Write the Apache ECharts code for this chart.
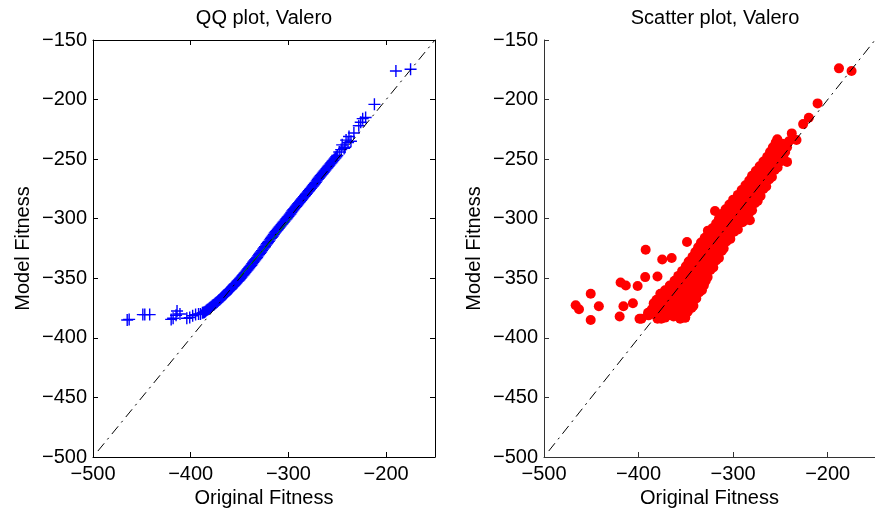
<!DOCTYPE html>
<html><head><meta charset="utf-8">
<script src="https://cdn.jsdelivr.net/npm/echarts@6/dist/echarts.min.js"></script>
<style>html,body{margin:0;padding:0;background:#fff}#c{width:875px;height:514px}</style>
</head><body><div id="c"></div>
<script>
// ---------------- data ----------------
const axisMin = -500, axisMax = -150;
const xInterval = 100, yInterval = 50;
const titles = ['QQ plot, Valero', 'Scatter plot, Valero'];
const xName = 'Original Fitness', yName = 'Model Fitness';

// QQ plot: lower tail
const qqTailOriginal = [-465,-463,-449,-447,-442,-420,-418,-415,-414,-411,-404,-401,-398,-395,-392,-390];
const qqTailModel    = [-385,-384.5,-380.5,-380.5,-380.5,-384.5,-383.5,-381,-377.5,-380,-383.5,-383,-381.5,-380.5,-380,-380];
// QQ plot: dense body
const qqBodyOriginal = [
 -388,-387,-386,-385,-384,-383,-382,-381,-380,-379,
 -378,-377,-376,-375,-374,-373,-372,-371,-370,-369,
 -368,-367,-366,-365,-364,-363,-362,-361,-360,-359,
 -358,-357,-356,-355,-354,-353,-352,-351,-350,-349,
 -348,-347,-346,-345,-344,-343,-342,-341,-340,-339,
 -338,-337,-336,-335,-334,-333,-332,-331,-330,-329,
 -328,-327,-326,-325,-324,-323,-322,-321,-320,-319,
 -318,-317,-316,-315,-314,-313,-312,-311,-310,-309,
 -308,-307,-306,-305,-304,-303,-302,-301,-300,-299,
 -298,-297,-296,-295,-294,-293,-292,-291,-290,-289,
 -288,-287,-286,-285,-284,-283,-282,-281,-280,-279,
 -278,-277,-276,-275,-274,-273,-272,-271,-270,-269,
 -268,-267,-266,-265,-264,-263,-262,-261,-260,-259,
 -258,-257,-256,-255,-254,-253,-252,-251,-250];
const qqBodyModel = [
 -379,-378.8,-378.5,-377.8,-377,-376.5,-376,-375.2,-374.5,-373.8,
 -373,-372.5,-372,-371.2,-370.5,-369.8,-369,-368.2,-367.5,-366.8,
 -366,-365.2,-364.5,-363.8,-363,-362,-361,-360.2,-359.5,-358.8,
 -358,-357,-356,-355.2,-354.5,-353.5,-352.5,-351.8,-351,-350,
 -349,-348,-347,-346,-345,-344,-343,-342,-341,-340,
 -339,-337.8,-336.5,-335.5,-334.5,-333.5,-332.5,-331.2,-330,-329,
 -328,-326.8,-325.5,-324.5,-323.5,-322.2,-321,-320,-319,-317.8,
 -316.5,-315.5,-314.5,-313.2,-312,-311,-310,-309,-308,-307,
 -306,-305,-304,-303,-302,-301,-300,-299,-298,-297,
 -296,-294.8,-293.5,-292.5,-291.5,-290.5,-289.5,-288.5,-287.5,-286.5,
 -285.5,-284.5,-283.5,-282.5,-281.5,-280.5,-279.5,-278.5,-277.5,-276.5,
 -275.5,-274.5,-273.5,-272.5,-271.5,-270.5,-269.5,-268.2,-267,-266,
 -265,-264,-263,-262,-261,-260,-259,-258,-257,-256,
 -255,-254,-253,-252,-251,-250,-249,-248,-247];
// QQ plot: upper tail
const qqTopOriginal = [-248,-246,-245,-243,-242,-241,-239,-238,-236,-233,-228,-226,-224,-221,-212,-190,-175];
const qqTopModel    = [-244,-242,-238,-241,-240,-234,-236,-231,-235,-228,-222,-219,-216,-215,-204,-176,-174.5];
// fitted quartile line (green) in the QQ plot
const qqFitOriginal = [-351, -297];
const qqFitModel    = [-350, -299];

// Scatter plot: outlying points
const scOutOriginal = [-466.5,-463,-450.6,-450.6,-442,-419,-413.5,-420,-416,-406,-401,-393,-392.5,-397,-390,-380,-375,-365,-376,-350.6,-362.6,-368,-348.8,-326.7,-319.2,-302.8,-282.3,-253.3,-238,-233,-243,-226,-220,-210.7,-188.1,-174.8];
const scOutModel    = [-372.7,-376,-363,-385,-373.5,-353.5,-356,-382,-373.5,-371,-356.5,-349,-326,-384,-381,-348.5,-334.3,-333,-384,-383,-379.7,-381,-319.5,-310,-293.5,-290,-301.3,-233.4,-228.4,-234,-252.3,-220.6,-215.3,-203.2,-173.8,-176];
// Scatter plot: dense band (one row per line)
const scBandOriginal = [
 -399,-389,-380,-372,-363,-356,-351,
 -390,-383,-376,-369,-362,-355,-348,
 -386,-379,-372,-365,-358,-351,-344,
 -384,-377,-370,-363,-356,-349,-342,
 -381,-374,-367,-360,-353,-346,-339,
 -377,-370,-363,-356,-349,-342,-336,
 -372,-365,-358,-351,-344,-338,-333,
 -367,-361,-355,-349,-343,-337,-331,
 -362,-356,-350,-344,-338,-333,-329,
 -358,-352,-346,-340,-334,-327,
 -354,-348,-342,-336,-330,-324,
 -350,-344,-338,-332,-326,-321,
 -347,-341,-335,-329,-323,-318,
 -343,-337,-331,-325,-320,-315,
 -340,-334,-328,-322,-317,-312,
 -337,-331,-325,-319,-314,-310,
 -334,-328,-322,-316,-311,-307,
 -330,-324,-318,-312,-307,-303,
 -326,-320,-314,-308,-303,-299,
 -322,-316,-310,-305,-300,-295,
 -318,-312,-306,-301,-296,-290,
 -315,-309,-303,-298,-292,-287,
 -312,-306,-300,-294,-288,-283,
 -308,-302,-296,-291,-285,-280,
 -304,-298,-292,-287,-282,-277,
 -300,-294,-288,-283,-278,-274,
 -295,-289,-283,-277,-271,
 -291,-285,-279,-273,-268,
 -287,-281,-276,-270,-265,
 -283,-277,-272,-267,-262,
 -280,-274,-269,-264,-259,
 -276,-270,-265,-260,-256,
 -272,-266,-261,-256,-253,
 -268,-262,-256,-250,
 -264,-258,-252,-247,
 -261,-255,-250,-245,
 -258,-252,-247,-243,
 -255,-248,-241];
const scBandModel = [
 -384,-381,-384,-383,-382,-384,-383,
 -379,-380,-378,-381,-379,-380,-378,
 -376,-375,-377,-376,-374,-377,-375,
 -371,-372,-373,-370,-372,-371,-373,
 -368,-367,-369,-368,-366,-369,-367,
 -363,-365,-364,-363,-365,-364,-362,
 -360,-359,-361,-360,-359,-361,-360,
 -356,-357,-355,-356,-357,-355,-356,
 -352,-351,-353,-352,-351,-353,-352,
 -348,-347,-349,-348,-347,-349,
 -344,-345,-343,-344,-345,-343,
 -340,-339,-341,-340,-339,-341,
 -336,-337,-335,-336,-337,-335,
 -332,-331,-333,-332,-331,-333,
 -328,-329,-327,-328,-329,-327,
 -324,-323,-325,-324,-323,-325,
 -320,-321,-319,-320,-321,-319,
 -316,-315,-317,-316,-315,-317,
 -312,-313,-311,-312,-313,-311,
 -308,-307,-309,-308,-307,-309,
 -304,-305,-303,-304,-305,-303,
 -300,-299,-301,-300,-299,-301,
 -296,-297,-295,-296,-297,-295,
 -292,-291,-293,-292,-291,-293,
 -288,-289,-287,-288,-289,-287,
 -284,-283,-285,-284,-283,-285,
 -280,-281,-279,-280,-281,
 -276,-275,-277,-276,-275,
 -272,-273,-271,-272,-273,
 -268,-267,-269,-268,-267,
 -264,-265,-263,-264,-265,
 -260,-259,-261,-260,-259,
 -256,-257,-255,-256,-257,
 -252,-251,-253,-252,
 -248,-249,-247,-248,
 -244,-243,-245,-244,
 -240,-241,-239,-240,
 -236,-237,-235];

// y = x reference line extent
const diagExtent = [-495, -150];

// ---------------- chart ----------------
const FONT = '"Liberation Sans", Arial, Helvetica, sans-serif';
const FS = 20;
const zip = (a, b) => a.map((v, i) => [v, b[i]]);
const minus = v => String(v).replace('-', '\u2212');
const PLUS = 'path://M5.3,0h1.4v5.3h5.3v1.4h-5.3v5.3h-1.4v-5.3h-5.3v-1.4h5.3z';

function xAx(grid, pos, labels, color) {
  return {
    type: 'value', gridIndex: grid, position: pos, min: axisMin, max: axisMax, interval: xInterval,
    axisLine: { show: true, onZero: false, lineStyle: { color: color, width: 1 } },
    axisTick: { show: true, inside: true, length: 5, lineStyle: { color: color } },
    axisLabel: { show: labels, formatter: minus, fontSize: FS, color: '#000', fontFamily: FONT, margin: 7, showMaxLabel: false },
    splitLine: { show: false },
    name: labels ? xName : '', nameLocation: 'middle', nameGap: 30,
    nameTextStyle: { fontSize: FS, color: '#000', fontFamily: FONT }
  };
}
function yAx(grid, pos, labels, color) {
  return {
    type: 'value', gridIndex: grid, position: pos, min: axisMin, max: axisMax, interval: yInterval,
    axisLine: { show: true, onZero: false, lineStyle: { color: color, width: 1 } },
    axisTick: { show: true, inside: true, length: 5, lineStyle: { color: color } },
    axisLabel: { show: labels, formatter: minus, fontSize: FS, color: '#000', fontFamily: FONT, margin: 6 },
    splitLine: { show: false },
    name: labels ? yName : '', nameLocation: 'middle', nameGap: 60,
    nameTextStyle: { fontSize: FS, color: '#000', fontFamily: FONT }
  };
}
const DASHDOT = [10, 5, 2, 5];
function diag(xi, yi) {
  return {
    type: 'line', xAxisIndex: xi, yAxisIndex: yi, data: [[diagExtent[0], diagExtent[0]], [diagExtent[1], diagExtent[1]]],
    symbol: 'none', silent: true, z: 5,
    lineStyle: { color: '#000', width: 1, type: DASHDOT }
  };
}
const titleStyle = t => ({ text: t, fill: '#000', font: FS + 'px ' + FONT, align: 'center', verticalAlign: 'middle', textAlign: 'center', textVerticalAlign: 'middle' });

const chart = echarts.init(document.getElementById('c'), null, { renderer: 'canvas' });
chart.setOption({
  animation: false,
  backgroundColor: '#fff',
  graphic: [
    { type: 'text', x: 264, y: 18, style: titleStyle(titles[0]) },
    { type: 'text', x: 715, y: 18, style: titleStyle(titles[1]) }
  ],
  grid: [
    { left: 93, top: 40, width: 342, height: 417 },
    { left: 544, top: 40, width: 342, height: 417 }
  ],
  xAxis: [xAx(0, 'bottom', true, '#000'), xAx(0, 'top', false, '#000'), xAx(1, 'bottom', true, '#333')],
  yAxis: [yAx(0, 'left', true, '#000'), yAx(0, 'right', false, '#000'), yAx(1, 'left', true, '#333')],
  series: [
    { type: 'scatter', xAxisIndex: 0, yAxisIndex: 0,
      data: zip(qqTailOriginal, qqTailModel).concat(zip(qqBodyOriginal, qqBodyModel), zip(qqTopOriginal, qqTopModel)),
      symbol: PLUS, symbolSize: 12, itemStyle: { color: '#0000ff', opacity: 1 }, z: 2 },
    diag(0, 0),
    { type: 'line', xAxisIndex: 0, yAxisIndex: 0, data: zip(qqFitOriginal, qqFitModel), symbol: 'none', silent: true, z: 6,
      lineStyle: { color: '#008000', width: 1 } },
    { type: 'scatter', xAxisIndex: 2, yAxisIndex: 2,
      data: zip(scBandOriginal, scBandModel).concat(zip(scOutOriginal, scOutModel)),
      symbol: 'circle', symbolSize: 10, itemStyle: { color: '#ff0000', opacity: 1 }, z: 2 },
    diag(2, 2)
  ]
});
</script></body></html>
